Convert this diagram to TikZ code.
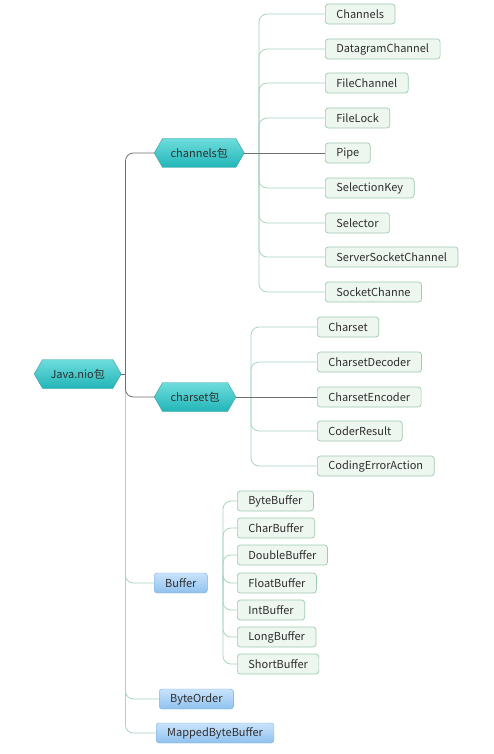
\documentclass[tikz,border=0pt]{standalone}
\usepackage{fontspec}
\setmainfont{Noto Sans CJK SC}
\usepackage{tikz}
\usetikzlibrary{positioning, shapes.symbols}
\definecolor{hextop}{HTML}{6FDCDC}
\definecolor{hexbottom}{HTML}{22B5B8}
\definecolor{hexline}{HTML}{3A9EA0}
\definecolor{leaffill}{HTML}{EEF6F0}
\definecolor{leafline}{HTML}{9CCBB0}
\definecolor{bluetop}{HTML}{C9E3FB}
\definecolor{bluebottom}{HTML}{8FC1EE}
\definecolor{blueline}{HTML}{78AEE0}
\definecolor{twiggreen}{HTML}{A8D5BE}
\definecolor{stemgrey}{HTML}{6E6E6E}
\definecolor{labelgrey}{HTML}{2E2E2E}

\begin{document}
\begin{tikzpicture}[x=1pt, y=-1pt, font=\fontsize{11}{13}\selectfont, text=labelgrey,
    hexnode/.style={signal, signal to=west and east, signal pointer angle=120,
      draw=hexline, top color=hextop, bottom color=hexbottom,
      minimum height=29pt, inner xsep=8pt, anchor=west},
    leaf/.style={rectangle, rounded corners=3pt, draw=leafline, fill=leaffill,
      line width=0.7pt, minimum height=20pt, inner xsep=11pt, inner ysep=0pt, anchor=west},
    bluebox/.style={rectangle, rounded corners=3pt, draw=blueline,
      top color=bluetop, bottom color=bluebottom,
      minimum height=20pt, inner xsep=11pt, inner ysep=0pt, anchor=west},
    greenlink/.style={draw=twiggreen, line width=0.8pt, rounded corners=8pt},
    greylink/.style={draw=stemgrey, line width=0.8pt, rounded corners=8pt}]
  \useasboundingbox (0,0) rectangle (494,754);

  % packages
  \node[hexnode] (nioPkg) at (34,374) {Java.nio包};
  \node[hexnode] (channelsPkg) at (154,153) {channels包};
  \node[hexnode] (charsetPkg) at (154,397) {charset包};

  % blue classes
  \node[bluebox] (Buffer) at (154,583) {Buffer};
  \node[bluebox] (ByteOrder) at (159,699) {ByteOrder};
  \node[bluebox] (MappedByteBuffer) at (156,733) {MappedByteBuffer};

  % leaves of channels
  \foreach \n/\y in {Channels/14, DatagramChannel/49, FileChannel/83, FileLock/118,
      Pipe/153, SelectionKey/188, Selector/223, ServerSocketChannel/257, SocketChanne/292}{
    \node[leaf] (\n) at (325,\y) {\n};
  }
  % leaves of charset
  \foreach \n/\y in {Charset/327, CharsetDecoder/362, CharsetEncoder/397,
      CoderResult/431, CodingErrorAction/466}{
    \node[leaf] (\n) at (317,\y) {\n};
  }
  % leaves of Buffer
  \foreach \n/\y in {ByteBuffer/501, CharBuffer/528, DoubleBuffer/555, FloatBuffer/583,
      IntBuffer/610, LongBuffer/637, ShortBuffer/664}{
    \node[leaf] (\n) at (237,\y) {\n};
  }

  % trunk of the root
  \coordinate (nioT) at ([xshift=4pt]nioPkg.east);
  \foreach \n in {Buffer, ByteOrder, MappedByteBuffer}
    \draw[greenlink] (nioT) |- (\n.west);
  \draw[greylink] (nioPkg.east) -- (nioT);
  \draw[greylink] (nioT) |- (channelsPkg.west);
  \draw[greylink] (nioT) |- (charsetPkg.west);

  % trunk of channels
  \coordinate (channelsT) at (259,153);
  \foreach \n in {Channels, DatagramChannel, FileChannel, FileLock,
      SelectionKey, Selector, ServerSocketChannel, SocketChanne}
    \draw[greenlink] (channelsT) |- (\n.west);
  \draw[greylink] (channelsPkg.east) -- (Pipe.west);

  % trunk of charset
  \coordinate (charsetT) at (251,397);
  \foreach \n in {Charset, CharsetDecoder, CoderResult, CodingErrorAction}
    \draw[greenlink] (charsetT) |- (\n.west);
  \draw[greylink] (charsetPkg.east) -- (CharsetEncoder.west);

  % trunk of Buffer
  \coordinate (bufferT) at (223,583);
  \foreach \n in {ByteBuffer, CharBuffer, DoubleBuffer, FloatBuffer,
      IntBuffer, LongBuffer, ShortBuffer}
    \draw[greenlink] (bufferT) |- (\n.west);
\end{tikzpicture}
\end{document}
